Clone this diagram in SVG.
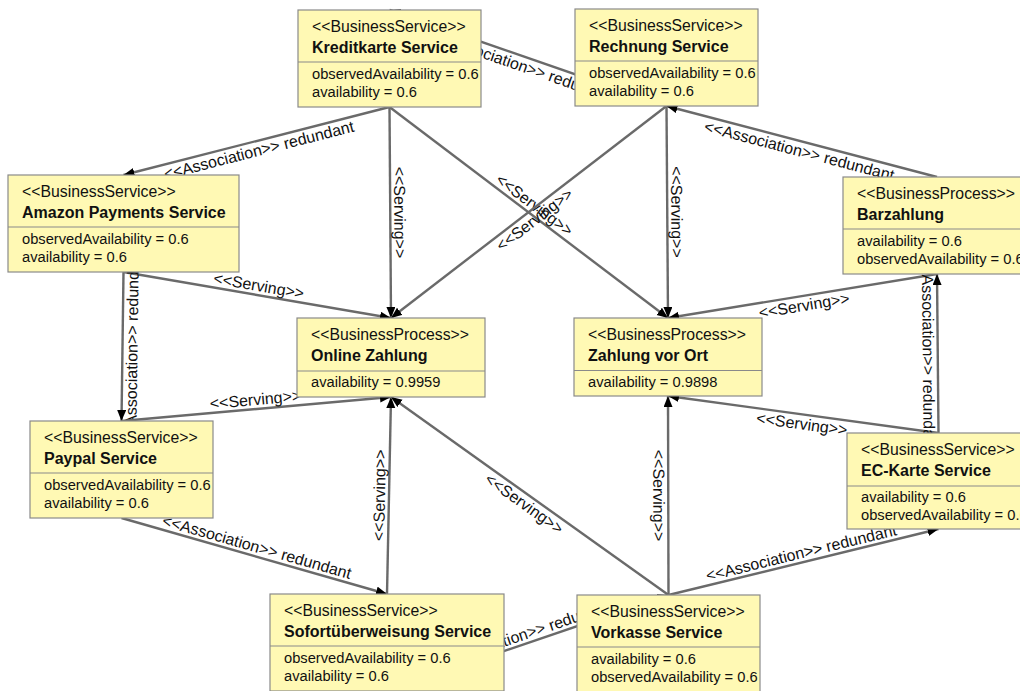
<svg xmlns="http://www.w3.org/2000/svg" width="1020" height="691" viewBox="0 0 1020 691">
  <defs>
    <marker id="arrow" markerUnits="userSpaceOnUse" markerWidth="12" markerHeight="10" refX="11" refY="4.5" orient="auto">
      <path d="M0,0 L11,4.5 L0,9 z" fill="#000"/>
    </marker>
    <style>
      .edge { stroke: #6a6a6a; stroke-width: 2.4; fill: none; marker-end: url(#arrow); }
      .lbl { font-family: "Liberation Sans", Arial, Helvetica, sans-serif; font-size: 16px; fill: #111; text-anchor: middle; }
      .box { fill: #fff9b4; stroke: #8a8a8a; stroke-width: 1.2; }
      .sep { stroke: #8a8a8a; stroke-width: 1.2; }
      .st { font-family: "Liberation Sans", Arial, Helvetica, sans-serif; font-size: 15.8px; fill: #111; }
      .nm { font-family: "Liberation Sans", Arial, Helvetica, sans-serif; font-size: 16px; font-weight: bold; fill: #111; }
      .at { font-family: "Liberation Sans", Arial, Helvetica, sans-serif; font-size: 14.7px; fill: #111; }
    </style>
  </defs>
  <rect width="1020" height="691" fill="#fff"/>

  <!-- connectors: lines run between top/bottom centre anchors, labels sit at the midpoints -->
  <g id="connectors">
    <line class="edge" x1="666.5" y1="106" x2="389.5" y2="10"/>
    <text class="lbl" transform="translate(528,58) rotate(19.11)" y="15">&lt;&lt;Association&gt;&gt; redundant</text>

    <line class="edge" x1="389.5" y1="107" x2="123.5" y2="175"/>
    <text class="lbl" transform="translate(256.5,141) rotate(-14.34)" y="15">&lt;&lt;Association&gt;&gt; redundant</text>

    <line class="edge" x1="389.5" y1="107" x2="391" y2="318"/>
    <text class="lbl" transform="translate(390.25,212.5) rotate(89.59)" y="-4">&lt;&lt;Serving&gt;&gt;</text>

    <line class="edge" x1="389.5" y1="107" x2="668" y2="318"/>
    <text class="lbl" transform="translate(528.75,212.5) rotate(37.15)" y="-4">&lt;&lt;Serving&gt;&gt;</text>

    <line class="edge" x1="666.5" y1="106" x2="391" y2="318"/>
    <text class="lbl" transform="translate(528.75,212) rotate(-37.6)" y="15">&lt;&lt;Serving&gt;&gt;</text>

    <line class="edge" x1="666.5" y1="106" x2="668" y2="318"/>
    <text class="lbl" transform="translate(667.25,212) rotate(89.6)" y="-4">&lt;&lt;Serving&gt;&gt;</text>

    <line class="edge" x1="937" y1="177" x2="666.5" y2="106"/>
    <text class="lbl" transform="translate(801.75,141.5) rotate(14.71)" y="15">&lt;&lt;Association&gt;&gt; redundant</text>

    <line class="edge" x1="123.5" y1="272" x2="391" y2="318"/>
    <text class="lbl" transform="translate(257.25,295) rotate(9.76)" y="-4">&lt;&lt;Serving&gt;&gt;</text>

    <line class="edge" x1="123.5" y1="272" x2="121.5" y2="421"/>
    <text class="lbl" transform="translate(122.5,346.5) rotate(-89.23)" y="15">&lt;&lt;Association&gt;&gt; redundant</text>

    <line class="edge" x1="937" y1="274" x2="668" y2="318"/>
    <text class="lbl" transform="translate(802.5,296) rotate(-9.29)" y="15">&lt;&lt;Serving&gt;&gt;</text>

    <line class="edge" x1="121.5" y1="421" x2="391" y2="397"/>
    <text class="lbl" transform="translate(256.25,409) rotate(-5.09)" y="-4">&lt;&lt;Serving&gt;&gt;</text>

    <line class="edge" x1="121.5" y1="518" x2="387" y2="594"/>
    <text class="lbl" transform="translate(254.25,556) rotate(15.97)" y="-4">&lt;&lt;Association&gt;&gt; redundant</text>

    <line class="edge" x1="387" y1="594" x2="391" y2="397"/>
    <text class="lbl" transform="translate(389,495.5) rotate(-88.84)" y="-4">&lt;&lt;Serving&gt;&gt;</text>

    <line class="edge" x1="668.5" y1="595" x2="391" y2="397"/>
    <text class="lbl" transform="translate(529.75,496) rotate(35.5)" y="15">&lt;&lt;Serving&gt;&gt;</text>

    <line class="edge" x1="668.5" y1="595" x2="668" y2="396"/>
    <text class="lbl" transform="translate(668.25,495.5) rotate(89.86)" y="15">&lt;&lt;Serving&gt;&gt;</text>

    <line class="edge" x1="938.5" y1="433" x2="668" y2="396"/>
    <text class="lbl" transform="translate(803.25,414.5) rotate(7.79)" y="15">&lt;&lt;Serving&gt;&gt;</text>

    <line class="edge" x1="938.5" y1="433" x2="937" y2="274"/>
    <text class="lbl" transform="translate(937.75,353.5) rotate(89.46)" y="15">&lt;&lt;Association&gt;&gt; redundant</text>

    <line class="edge" x1="668.5" y1="595" x2="938.5" y2="529"/>
    <text class="lbl" transform="translate(803.5,562) rotate(-13.74)" y="-4">&lt;&lt;Association&gt;&gt; redundant</text>

    <line class="edge" x1="387" y1="691" x2="668.5" y2="595"/>
    <text class="lbl" transform="translate(527.75,643) rotate(-18.83)" y="-4">&lt;&lt;Association&gt;&gt; redundant</text>
  </g>

  <!-- nodes -->
  <g id="kreditkarte" transform="translate(298,10)">
    <rect class="box" width="183" height="97"/>
    <line class="sep" x1="0" y1="52" x2="183" y2="52"/>
    <text class="st" x="14" y="21.5">&lt;&lt;BusinessService&gt;&gt;</text>
    <text class="nm" x="14" y="43">Kreditkarte Service</text>
    <text class="at" x="14" y="69">observedAvailability = 0.6</text>
    <text class="at" x="14" y="87">availability = 0.6</text>
  </g>

  <g id="rechnung" transform="translate(575,9)">
    <rect class="box" width="183" height="97"/>
    <line class="sep" x1="0" y1="52" x2="183" y2="52"/>
    <text class="st" x="14" y="21.5">&lt;&lt;BusinessService&gt;&gt;</text>
    <text class="nm" x="14" y="43">Rechnung Service</text>
    <text class="at" x="14" y="69">observedAvailability = 0.6</text>
    <text class="at" x="14" y="87">availability = 0.6</text>
  </g>

  <g id="amazon" transform="translate(8,175)">
    <rect class="box" width="231" height="97"/>
    <line class="sep" x1="0" y1="52" x2="231" y2="52"/>
    <text class="st" x="14" y="21.5">&lt;&lt;BusinessService&gt;&gt;</text>
    <text class="nm" x="14" y="43">Amazon Payments Service</text>
    <text class="at" x="14" y="69">observedAvailability = 0.6</text>
    <text class="at" x="14" y="87">availability = 0.6</text>
  </g>

  <g id="barzahlung" transform="translate(843,177)">
    <rect class="box" width="188" height="97"/>
    <line class="sep" x1="0" y1="52" x2="188" y2="52"/>
    <text class="st" x="14" y="21.5">&lt;&lt;BusinessProcess&gt;&gt;</text>
    <text class="nm" x="14" y="43">Barzahlung</text>
    <text class="at" x="14" y="69">availability = 0.6</text>
    <text class="at" x="14" y="87">observedAvailability = 0.6</text>
  </g>

  <g id="online-zahlung" transform="translate(297,318)">
    <rect class="box" width="188" height="79"/>
    <line class="sep" x1="0" y1="53" x2="188" y2="53"/>
    <text class="st" x="14" y="21.5">&lt;&lt;BusinessProcess&gt;&gt;</text>
    <text class="nm" x="14" y="43">Online Zahlung</text>
    <text class="at" x="14" y="69">availability = 0.9959</text>
  </g>

  <g id="zahlung-vor-ort" transform="translate(574,318)">
    <rect class="box" width="188" height="78"/>
    <line class="sep" x1="0" y1="52.5" x2="188" y2="52.5"/>
    <text class="st" x="14" y="21.5">&lt;&lt;BusinessProcess&gt;&gt;</text>
    <text class="nm" x="14" y="43">Zahlung vor Ort</text>
    <text class="at" x="14" y="69">availability = 0.9898</text>
  </g>

  <g id="paypal" transform="translate(30,421)">
    <rect class="box" width="183" height="97"/>
    <line class="sep" x1="0" y1="52" x2="183" y2="52"/>
    <text class="st" x="14" y="21.5">&lt;&lt;BusinessService&gt;&gt;</text>
    <text class="nm" x="14" y="43">Paypal Service</text>
    <text class="at" x="14" y="69">observedAvailability = 0.6</text>
    <text class="at" x="14" y="87">availability = 0.6</text>
  </g>

  <g id="ec-karte" transform="translate(847,433)">
    <rect class="box" width="183" height="96"/>
    <line class="sep" x1="0" y1="53" x2="183" y2="53"/>
    <text class="st" x="14" y="21.5">&lt;&lt;BusinessService&gt;&gt;</text>
    <text class="nm" x="14" y="43">EC-Karte Service</text>
    <text class="at" x="14" y="69">availability = 0.6</text>
    <text class="at" x="14" y="87">observedAvailability = 0.6</text>
  </g>

  <g id="sofortueberweisung" transform="translate(270,594)">
    <rect class="box" width="234" height="97"/>
    <line class="sep" x1="0" y1="52" x2="234" y2="52"/>
    <text class="st" x="14" y="21.5">&lt;&lt;BusinessService&gt;&gt;</text>
    <text class="nm" x="14" y="43">Sofortüberweisung Service</text>
    <text class="at" x="14" y="69">observedAvailability = 0.6</text>
    <text class="at" x="14" y="87">availability = 0.6</text>
  </g>

  <g id="vorkasse" transform="translate(577,595)">
    <rect class="box" width="183" height="97"/>
    <line class="sep" x1="0" y1="52" x2="183" y2="52"/>
    <text class="st" x="14" y="21.5">&lt;&lt;BusinessService&gt;&gt;</text>
    <text class="nm" x="14" y="43">Vorkasse Service</text>
    <text class="at" x="14" y="69">availability = 0.6</text>
    <text class="at" x="14" y="87">observedAvailability = 0.6</text>
  </g>
</svg>
